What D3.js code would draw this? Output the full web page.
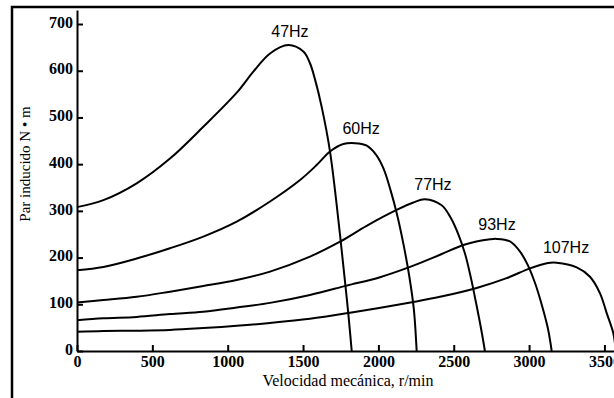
<!DOCTYPE html>
<html>
<head>
<meta charset="utf-8">
<script src="https://cdn.jsdelivr.net/npm/d3@7"></script>
<style>
body { margin: 0; background: #fff; }
svg { display: block; }
.axis path, .axis line { stroke: #000; stroke-width: 2; }
</style>
</head>
<body>
<svg></svg>
<script>
var width = 614;
var height = 398;

// curves, rpm -> torque (N m)
const labels = ["47Hz", "60Hz", "77Hz", "93Hz", "107Hz"];
const rpm47 = [0, 175, 396, 617, 838, 1060, 1170, 1281, 1402, 1502, 1546, 1579, 1624, 1679, 1745, 1778, 1801, 1823];
const tq47  = [308, 323, 359, 412, 480, 553, 598, 637, 655, 641, 616, 582, 522, 427, 250, 150, 78, 0];
const rpm60 = [0, 175, 396, 617, 838, 1060, 1281, 1480, 1590, 1679, 1767, 1845, 1920, 1985, 2035, 2080, 2121, 2165, 2205, 2235, 2254];
const tq60  = [173, 180, 198, 220, 245, 277, 320, 366, 398, 427, 443, 445, 440, 420, 390, 345, 296, 231, 160, 90, 0];
const rpm77 = [0, 175, 396, 617, 838, 1060, 1281, 1546, 1745, 1922, 2121, 2232, 2309, 2420, 2480, 2530, 2575, 2615, 2650, 2683, 2707];
const tq77  = [104, 109, 116, 127, 139, 152, 170, 202, 234, 268, 302, 318, 325, 312, 285, 250, 208, 155, 100, 45, 0];
const rpm93 = [0, 175, 396, 617, 838, 1060, 1281, 1546, 1790, 2011, 2210, 2409, 2575, 2741, 2785, 2870, 2935, 2990, 3040, 3085, 3125, 3150];
const tq93  = [66, 70, 73, 79, 84, 93, 103, 120, 140, 158, 180, 206, 228, 239, 240, 235, 215, 185, 145, 98, 48, 0];
const rpm107 = [0, 175, 396, 617, 838, 1060, 1281, 1546, 1812, 2232, 2409, 2652, 2851, 3006, 3117, 3183, 3316, 3404, 3470, 3515, 3559, 3575];
const tq107  = [41, 43, 43.5, 45, 49, 54, 60, 69, 82, 105, 116, 135, 156, 177, 188, 189, 179, 159, 124, 81, 38, 0];
const labelRpm = [1413, 1885, 2362, 2787, 3245];
const labelTq = [685, 477, 358, 272, 223];

const xTicks = [0, 500, 1000, 1500, 2000, 2500, 3000, 3500];
const yTicks = [0, 100, 200, 300, 400, 500, 600, 700];

var rpms = [rpm47, rpm60, rpm77, rpm93, rpm107];
var tqs = [tq47, tq60, tq77, tq93, tq107];
var series = labels.map(function(l, k) {
	return rpms[k].map(function(r, i) { return {r: r, t: tqs[k][i]}; });
});

var svg = d3.select("svg").attr("width", width).attr("height", height);

var x = d3.scaleLinear().domain([0, 3600]).range([77, 619.5]);
var y = d3.scaleLinear().domain([0, 730]).range([351, 10]);

// frame
svg.append("rect")
	.attr("x", 12).attr("y", 7)
	.attr("width", 640).attr("height", 420)
	.style("fill", "none")
	.style("stroke", "#000")
	.style("stroke-width", 2.5);

var clip = svg.append("clipPath").attr("id", "clip");
clip.append("rect").attr("x", 0).attr("y", 0).attr("width", width).attr("height", 352);

var line = d3.line()
	.x(d => x(d.r))
	.y(d => y(d.t))
	.curve(d3.curveCatmullRom.alpha(0.5));

svg.append("g").attr("clip-path", "url(#clip)")
	.selectAll(".curve")
	.data(series)
	.enter().append("path")
	.attr("class", "curve")
	.attr("d", line)
	.style("fill", "none")
	.style("stroke", "#000")
	.style("stroke-width", 2);

var xAxis = svg.append("g")
	.attr("class", "axis")
	.attr("transform", "translate(0," + y(0) + ")")
	.call(d3.axisBottom(x).tickValues(xTicks).tickFormat(d3.format("d")).tickSizeInner(-6).tickSizeOuter(0));
xAxis.selectAll("text").attr("y", 5).attr("dy", "0.71em");

var yAxis = svg.append("g")
	.attr("class", "axis")
	.attr("transform", "translate(" + x(0) + ",0)")
	.call(d3.axisLeft(y).tickValues(yTicks).tickFormat(d3.format("d")).tickSizeInner(-6).tickSizeOuter(0));
yAxis.selectAll("text").attr("x", -4).attr("dy", "0.2em");

svg.selectAll(".axis")
	.attr("font-family", "'Liberation Serif', 'Times New Roman', serif")
	.attr("font-size", 16)
	.attr("font-weight", "bold");
svg.selectAll(".axis text").style("fill", "#000");

svg.selectAll(".hz")
	.data(labels)
	.enter().append("text")
	.attr("class", "hz")
	.attr("x", (d, i) => x(labelRpm[i]))
	.attr("y", (d, i) => y(labelTq[i]))
	.attr("dy", "0.36em")
	.attr("text-anchor", "middle")
	.style("font-family", "'Liberation Sans', Arial, sans-serif")
	.style("font-size", "16px")
	.text(d => d);

svg.append("text")
	.attr("x", 348).attr("y", 386)
	.attr("text-anchor", "middle")
	.style("font-family", "'Liberation Serif', serif")
	.style("font-size", "16px")
	.text("Velocidad mecánica, r/min");

svg.append("text")
	.attr("transform", "translate(30,164) rotate(-90)")
	.attr("text-anchor", "middle")
	.style("font-family", "'Liberation Serif', serif")
	.style("font-size", "15px")
	.text("Par inducido N • m");
</script>
</body>
</html>
